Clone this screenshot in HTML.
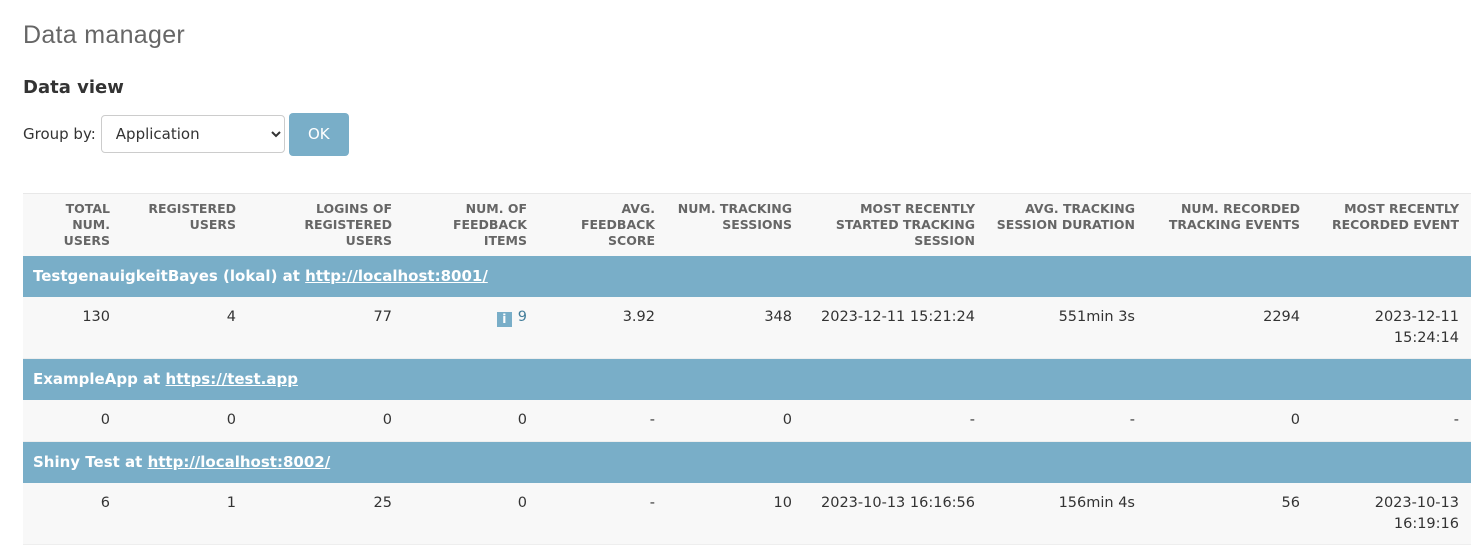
<!DOCTYPE html>
<html><head><meta charset="utf-8"><style>
body{margin:0;background:#fff;font-family:"DejaVu Sans","Liberation Sans",sans-serif;color:#333;width:1479px;height:560px;overflow:hidden;position:relative}
h1{position:absolute;left:23px;top:21px;margin:0;font-weight:300;font-size:25px;color:#666;font-family:"Liberation Sans",sans-serif;letter-spacing:0.3px}
h2{position:absolute;left:23px;top:77px;margin:0;font-size:18px;font-weight:bold;color:#333}
.grp{position:absolute;left:23px;top:113px;height:42px;display:flex;align-items:center;font-size:15px}
select{margin-left:5px;width:184px;height:38px;border:1px solid #ccc;border-radius:4px;background:#fff;font-size:15px;padding-left:10px;color:#333;font-family:inherit}
.ok{margin-left:4px;width:60px;height:43px;background:#79aec8;color:#fff;border-radius:4px;display:flex;align-items:center;justify-content:center;font-size:15px}
table{position:absolute;left:23px;top:193px;width:1448px;border-collapse:collapse;table-layout:fixed}
th{background:#f8f8f8;border-top:1px solid #e8e8e8;color:#666;font-size:12.5px;font-weight:bold;text-align:right;vertical-align:top;padding:7px 8px 6px 0;line-height:16px;height:49px;text-transform:uppercase;white-space:nowrap}
td{text-align:right;vertical-align:top;padding:10px 8px 0 0;font-size:14.5px;line-height:21px;background:#f8f8f8;border-bottom:1px solid #eee;white-space:nowrap}
tr.d1 td{height:51px}
tr.d2 td{height:31px}
tr.g td{background:#79aec8;color:#fff;font-weight:bold;text-align:left;padding:0 0 0 10px;height:41px;vertical-align:middle;font-size:15px;border:none}
tr.g a{color:#fff;text-decoration:underline}
.info{display:inline-block;width:15px;height:15px;background:#79aec8;color:#fff;font-size:12px;line-height:15px;text-align:center;vertical-align:-2px;margin-right:6px;font-weight:bold}
.lnk{color:#447e9b}
</style></head><body>
<h1>Data manager</h1>
<h2>Data view</h2>
<div class="grp"><span>Group by:</span>
<select><option>Application</option></select>
<div class="ok">OK</div></div>
<table>
<colgroup><col style="width:95px"><col style="width:126px"><col style="width:156px"><col style="width:135px"><col style="width:128px"><col style="width:137px"><col style="width:183px"><col style="width:160px"><col style="width:165px"><col style="width:163px"></colgroup>
<tr><th>Total<br>num.<br>users</th><th>Registered<br>users</th><th>Logins of<br>registered<br>users</th><th>Num. of<br>feedback<br>items</th><th>Avg.<br>feedback<br>score</th><th>Num. tracking<br>sessions</th><th>Most recently<br>started tracking<br>session</th><th>Avg. tracking<br>session duration</th><th>Num. recorded<br>tracking events</th><th style="padding-right:12px">Most recently<br>recorded event</th></tr>
<tr class="g"><td colspan="10">TestgenauigkeitBayes (lokal) at <a>http://localhost:8001/</a></td></tr>
<tr class="d1"><td>130</td><td>4</td><td>77</td><td><span class="info">i</span><span class="lnk">9</span></td><td>3.92</td><td>348</td><td>2023-12-11 15:21:24</td><td>551min 3s</td><td>2294</td><td style="padding-right:12px">2023-12-11<br>15:24:14</td></tr>
<tr class="g"><td colspan="10">ExampleApp at <a>https://test.app</a></td></tr>
<tr class="d2"><td>0</td><td>0</td><td>0</td><td>0</td><td>-</td><td>0</td><td>-</td><td>-</td><td>0</td><td style="padding-right:12px">-</td></tr>
<tr class="g"><td colspan="10">Shiny Test at <a>http://localhost:8002/</a></td></tr>
<tr class="d1"><td>6</td><td>1</td><td>25</td><td>0</td><td>-</td><td>10</td><td>2023-10-13 16:16:56</td><td>156min 4s</td><td>56</td><td style="padding-right:12px">2023-10-13<br>16:19:16</td></tr>
</table>
</body></html>
